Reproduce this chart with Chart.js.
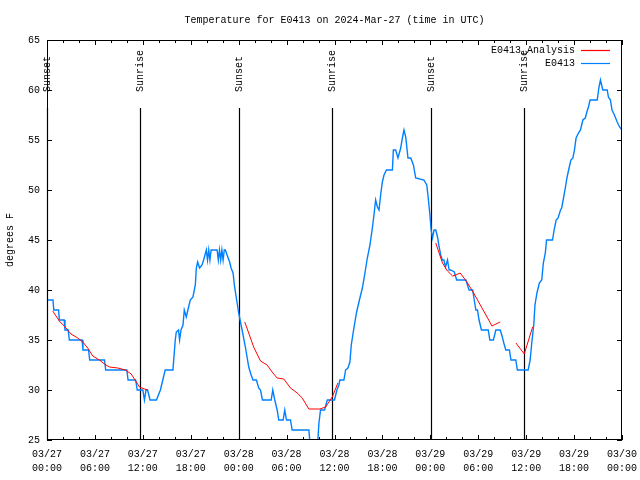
<!DOCTYPE html>
<html><head><meta charset="utf-8">
<script src="https://cdn.jsdelivr.net/npm/chart.js@4.4.1/dist/chart.umd.min.js"></script>
<style>html,body{margin:0;padding:0;background:#fff}</style>
</head><body>
<canvas id="c" width="640" height="480"></canvas>
<script>
// ---- data (hours since 03/27 00:00 UTC) ----
const titleText = "Temperature for E0413 on 2024-Mar-27 (time in UTC)";
const yAxisLabel = "degrees F";
const seriesNames = ["E0413_Analysis", "E0413"];
const xTickLabels = [
  ["03/27","00:00"],["03/27","06:00"],["03/27","12:00"],["03/27","18:00"],
  ["03/28","00:00"],["03/28","06:00"],["03/28","12:00"],["03/28","18:00"],
  ["03/29","00:00"],["03/29","06:00"],["03/29","12:00"],["03/29","18:00"],
  ["03/30","00:00"]
];
const sunHours  = [0, 11.7, 24.05, 35.7, 48.05, 59.77];
const sunLabels = ["Sunset","Sunrise","Sunset","Sunrise","Sunset","Sunrise"];

const obsHours = [0,0.75,0.85,1.45,1.55,2.15,2.25,2.65,2.8,4.4,4.5,5.2,5.35,7.2,7.35,10.0,10.15,11.1,11.3,12.0,12.2,12.4,12.6,12.9,13.7,14.2,14.5,14.8,15.77,
  16.06,16.19,16.47,16.6,16.78,17.03,17.19,17.44,17.73,17.94,18.28,18.57,18.7,18.86,19.11,19.41,19.61,19.95,20.1,20.25,20.4,20.55,21.3,21.45,21.6,21.75,21.9,22.05,22.2,22.33,
  22.55,22.87,23.05,23.3,23.46,23.71,23.85,24.0,24.43,24.84,25.26,25.56,25.8,26.22,26.51,26.73,26.98,28.07,28.27,28.52,28.82,29.02,29.57,29.77,29.99,30.49,30.7,32.79,33.0,33.84,34.05,
  34.25,34.75,35.1,36.0,36.3,36.55,36.67,37.18,37.39,37.68,37.93,38.1,38.43,38.77,39.18,39.49,39.77,40.11,40.44,40.74,40.94,41.15,41.37,41.57,41.78,41.99,42.2,42.5,43.25,43.37,43.66,43.95,44.29,44.5,44.7,44.92,45.2,45.55,45.88,46.17,47.2,
  47.55,47.7,47.95,48.1,48.27,48.47,48.68,48.9,49.1,49.3,49.5,49.7,49.9,50.15,50.35,50.55,51.0,51.3,52.45,52.65,52.85,53.3,53.5,53.7,53.9,54.1,54.4,55.25,55.45,55.9,56.2,56.75,56.95,57.2,57.45,57.9,58.1,58.7,58.9,60.25,
  60.5,60.7,60.95,61.1,61.35,61.65,61.95,62.15,62.4,62.55,63.3,63.5,63.75,64.0,64.3,64.45,64.7,64.9,65.1,65.4,65.6,65.85,66.05,66.25,66.55,66.8,67.1,67.4,67.6,67.8,68.0,68.9,69.1,69.3,69.45,69.6,70.15,70.3,70.55,70.75,71.05,71.4,71.7,72.0];
const obsTemps = [39,39,38,38,37,37,36,36,35,35,34,34,33,33,32,32,31,31,30,30,29,30,30,29,29,30,31,32,32,
  35,35.8,36,35,36,36.5,38,37.3,38.3,39,39.3,40.5,42.2,42.8,42.2,42.5,43,44,43,44,43,44,44,43,44,43,44,43,44,44,
  43.5,42.8,42.2,41.7,40.5,39.2,38.5,37.7,36,34.3,32.3,31.5,31,31,30.2,30,29,29,30,29,28,27,27,28,27,27,26,26,24,24,26.7,
  28,28,29,29,30,30.5,31,31,32,32.2,32.8,34.5,36.2,37.8,39.2,40.2,41.5,43.2,44.5,46.2,47.5,49,48.3,48,49.5,50.8,51.5,52,52,54,54,53.2,54.2,55.2,56,55.3,53.2,53.2,52.5,51.2,51,
  50.5,49.5,47.5,46,45.2,46,46,45.3,44.3,43.5,43,43,42.3,43,42,42,41.8,41,41,40.5,40,40,39,38,38,37,36,36,35,35,36,36,35.5,34.7,34,34,33,33,32,32,
  33,34.7,36.5,38.5,39.7,40.7,41,42.7,43.7,45,45,46,47,47.2,48,48.2,49.3,50.2,51.2,52.3,53,53.2,54,55.2,55.7,56,57,57.2,57.8,58.3,59,59,60.2,61,60.5,60,60,59.3,59,58,57.5,56.8,56.3,56];

const anaHours = [0.72,1.54,2.38,3.01,3.85,4.48,5.1,5.73,6.56,7.19,7.82,8.87,9.82,10.54,10.95,11.58,12.21,12.63, 18,
  24.76,25.26,25.88,26.73,27.57,28.19,28.82,29.65,30.49,31.33,31.96,32.79,34.17,34.88,35.72,36.42, 42,
  48.68,49.1,49.52,50.15,50.78,51.19,51.73,52.03,52.66,53.49,54.33,55.17,55.71,56.21,56.75, 57.7,
  58.72,59.76,60.81];
const anaTemps = [37.9,36.9,36.2,35.6,35.2,34.8,34.2,33.4,33,32.6,32.3,32.2,32,31.6,31.1,30.3,30.1,30, null,
  36.8,35.7,34.3,32.9,32.5,31.8,31.2,31.1,30.2,29.7,29.2,28.1,28.1,28.3,29.3,30.7, null,
  44.7,43.7,42.7,41.9,41.4,41.5,41.7,41.4,40.7,39.6,38.4,37.2,36.4,36.6,36.8, null,
  34.7,33.6,36.3];

const RED = "#ff0000", BLUE = "#0080ff";
const MONO = "'Liberation Mono', 'DejaVu Sans Mono', monospace";

const toXY = (xs, ys) => xs.map((x, i) => ({x: x, y: ys[i]}));

const decor = {
  id: 'decor',
  beforeDatasetsDraw(chart) {
    const {ctx, chartArea: a, scales: {x}} = chart;
    ctx.save();
    ctx.strokeStyle = '#000'; ctx.lineWidth = 1.2;
    ctx.fillStyle = '#000';
    ctx.font = "10px " + MONO;
    sunHours.forEach((h, i) => {
      const px = Math.round(x.getPixelForValue(h)) + 0.5;
      ctx.beginPath(); ctx.moveTo(px, 108); ctx.lineTo(px, a.bottom); ctx.stroke();
      ctx.save();
      ctx.translate(px, 92);
      ctx.rotate(-Math.PI / 2);
      ctx.textAlign = 'left'; ctx.textBaseline = 'middle';
      ctx.fillText(sunLabels[i], 0, 0);
      ctx.restore();
    });
    ctx.restore();
  },
  afterDraw(chart) {
    const {ctx, chartArea: a, scales: {x, y}} = chart;
    ctx.save();
    ctx.strokeStyle = '#000'; ctx.lineWidth = 1;
    ctx.strokeRect(a.left + 0.5, a.top + 0.5, a.right - a.left - 1, a.bottom - a.top - 1);
    ctx.beginPath();
    for (let h = 0; h <= 72; h += 2) {
      const px = Math.round(x.getPixelForValue(h)) + 0.5;
      const len = (h % 6 === 0) ? 5 : 3;
      ctx.moveTo(px, a.bottom); ctx.lineTo(px, a.bottom - len);
      ctx.moveTo(px, a.top); ctx.lineTo(px, a.top + len);
    }
    for (let t = 25; t <= 65; t += 5) {
      const py = Math.round(y.getPixelForValue(t)) + 0.5;
      ctx.moveTo(a.left, py); ctx.lineTo(a.left + 5, py);
      ctx.moveTo(a.right, py); ctx.lineTo(a.right - 5, py);
    }
    ctx.stroke();
    // title
    ctx.fillStyle = '#000';
    ctx.font = "10px " + MONO;
    ctx.textAlign = 'center'; ctx.textBaseline = 'middle';
    ctx.fillText(titleText, (a.left + a.right) / 2, 20);
    // legend
    const colors = [RED, BLUE];
    ctx.textAlign = 'right';
    seriesNames.forEach((n, i) => {
      const ly = 50 + i * 13;
      ctx.fillStyle = '#000';
      ctx.fillText(n, 575, ly);
      ctx.strokeStyle = colors[i]; ctx.lineWidth = 1.2;
      ctx.beginPath(); ctx.moveTo(581, Math.round(ly) + 0.5); ctx.lineTo(610, Math.round(ly) + 0.5); ctx.stroke();
    });
    ctx.restore();
  }
};

new Chart(document.getElementById('c'), {
  type: 'line',
  data: {
    datasets: [
      { label: seriesNames[0], data: toXY(anaHours, anaTemps), borderColor: RED, borderWidth: 1,
        pointRadius: 0, tension: 0, spanGaps: false, clip: 0, order: 0 },
      { label: seriesNames[1], data: toXY(obsHours, obsTemps), borderColor: BLUE, borderWidth: 1.4,
        pointRadius: 0, tension: 0, clip: 0, order: 1 }
    ]
  },
  options: {
    responsive: false, animation: false, devicePixelRatio: 1,
    layout: { padding: { top: 40, right: 18, left: 0, bottom: 0 } },
    plugins: { legend: { display: false }, title: { display: false }, tooltip: { enabled: false } },
    scales: {
      x: {
        type: 'linear', min: 0, max: 72,
        grid: { display: false, drawTicks: false }, border: { display: false },
        ticks: {
          stepSize: 6, autoSkip: false, maxRotation: 0, minRotation: 0, padding: 8,
          color: '#000', font: { family: MONO, size: 10, lineHeight: 1.35 },
          callback: (v) => xTickLabels[Math.round(v / 6)]
        },
        afterFit: (s) => { s.height = 40; s.paddingLeft = 0; s.paddingRight = 0; }
      },
      y: {
        min: 25, max: 65,
        grid: { display: false, drawTicks: false }, border: { display: false },
        ticks: { stepSize: 5, padding: 7, color: '#000', font: { family: MONO, size: 10 } },
        title: { display: true, text: yAxisLabel, color: '#000', font: { family: MONO, size: 10 }, padding: { top: 4, bottom: 0 } },
        afterFit: (s) => { s.width = 47; s.paddingTop = 0; s.paddingBottom = 0; }
      }
    }
  },
  plugins: [decor]
});
</script>
</body></html>
